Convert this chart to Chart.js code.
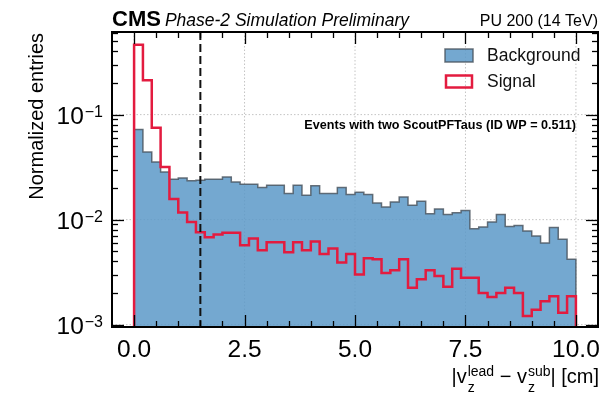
<!DOCTYPE html>
<html>
<head>
<meta charset="utf-8">
<script src="https://cdn.jsdelivr.net/npm/chart.js@4"></script>
<style>
  html, body { margin: 0; padding: 0; background: #fff; }
</style>
</head>
<body>
<canvas id="dz" width="603" height="394"></canvas>
<script>
// bin edges of |vz_lead - vz_sub| in cm
const binEdges = [0.0, 0.2, 0.4, 0.6, 0.8, 1.0, 1.2, 1.4, 1.6, 1.8,
  2.0, 2.2, 2.4, 2.6, 2.8, 3.0, 3.2, 3.4, 3.6, 3.8,
  4.0, 4.2, 4.4, 4.6, 4.8, 5.0, 5.2, 5.4, 5.6, 5.8,
  6.0, 6.2, 6.4, 6.6, 6.8, 7.0, 7.2, 7.4, 7.6, 7.8,
  8.0, 8.2, 8.4, 8.6, 8.8, 9.0, 9.2, 9.4, 9.6, 9.8, 10.0];

const background = [0.072, 0.044, 0.0354, 0.0284, 0.0242, 0.0249, 0.0235, 0.0237, 0.0242, 0.0242,
  0.0255, 0.0228, 0.0217, 0.0217, 0.0202, 0.0212, 0.0212, 0.0177, 0.0212, 0.0171,
  0.021, 0.0177, 0.0177, 0.0202, 0.0174, 0.0182, 0.0174, 0.0144, 0.0132, 0.0147,
  0.0164, 0.0137, 0.015, 0.0114, 0.0126, 0.0112, 0.0116, 0.0122, 0.0082, 0.0085,
  0.0095, 0.0112, 0.0086, 0.0088, 0.0078, 0.007, 0.006, 0.0084, 0.0065, 0.0042];

const signal = [0.464, 0.212, 0.075, 0.0317, 0.0157, 0.0117, 0.0095, 0.0076, 0.0068, 0.0072,
  0.0075, 0.0075, 0.0057, 0.0066, 0.0051, 0.0061, 0.0061, 0.0049, 0.0061, 0.0051,
  0.0062, 0.0047, 0.0053, 0.0039, 0.0047, 0.003, 0.0043, 0.0042, 0.0031, 0.0033,
  0.0042, 0.00225, 0.0027, 0.0033, 0.0029, 0.0023, 0.0034, 0.0028, 0.0028, 0.002,
  0.00183, 0.002, 0.00225, 0.002, 0.00121, 0.00139, 0.00167, 0.00186, 0.0013, 0.00186];

const xTicks = [0, 2.5, 5, 7.5, 10];
const xTickLabels = ['0.0', '2.5', '5.0', '7.5', '10.0'];
const yTicks = [0.001, 0.01, 0.1];
const yTickExp = ['\u22123', '\u22122', '\u22121'];
const cutValue = 1.5;

const X_MIN = -0.5, X_MAX = 10.5;
const Y_MIN = 0.00095, Y_MAX = 0.612;
const FONT = '"Liberation Sans", Arial, sans-serif';
const BLUE = 'rgba(93,154,200,0.86)';
const EDGE = 'rgba(70,80,90,0.8)';
const RED = '#e31b3f';

function histPoints(vals) {
  const last = binEdges.length - 1;
  const pts = [{ x: binEdges[0], y: Y_MIN }];
  vals.forEach((v, i) => pts.push({ x: binEdges[i], y: v }));
  pts.push({ x: binEdges[last], y: vals[vals.length - 1] });
  pts.push({ x: binEdges[last], y: Y_MIN });
  return pts;
}

function line(ctx, x1, y1, x2, y2) {
  ctx.beginPath(); ctx.moveTo(x1, y1); ctx.lineTo(x2, y2); ctx.stroke();
}

const decor = {
  id: 'decor',
  beforeDatasetsDraw(chart) {
    const { ctx, chartArea: a, scales: { x, y } } = chart;
    ctx.save();
    ctx.strokeStyle = '#c4c4c4';
    ctx.lineWidth = 1;
    ctx.setLineDash([1.5, 2]);
    xTicks.forEach(t => { const px = x.getPixelForValue(t); line(ctx, px, a.top, px, a.bottom); });
    yTicks.forEach(t => { const py = y.getPixelForValue(t); line(ctx, a.left, py, a.right, py); });
    ctx.restore();
  },
  afterDatasetsDraw(chart) {
    const { ctx, chartArea: a, scales: { x, y } } = chart;
    ctx.save();

    // cut line
    ctx.strokeStyle = '#111';
    ctx.lineWidth = 2;
    ctx.setLineDash([8, 4]);
    const cx = x.getPixelForValue(cutValue);
    line(ctx, cx, a.top, cx, a.bottom);
    ctx.setLineDash([]);

    // ticks on all sides, pointing in
    ctx.strokeStyle = '#000';
    ctx.lineWidth = 1.3;
    for (let v = -0.5; v <= 10.5; v += 0.5) {
      const px = Math.round(x.getPixelForValue(v)) + 0.5;
      if (px <= a.left + 1 || px >= a.right - 1) continue;
      const len = xTicks.includes(v) ? 12 : 6;
      line(ctx, px, a.bottom, px, a.bottom - len);
      line(ctx, px, a.top, px, a.top + len);
    }
    for (let d = 0.001; d < 1; d *= 10) {
      for (let k = 1; k <= 9; k++) {
        const v = d * k;
        if (v < Y_MIN || v > Y_MAX) continue;
        const py = Math.round(y.getPixelForValue(v)) + 0.5;
        const len = k === 1 ? 12 : 6;
        line(ctx, a.left, py, a.left + len, py);
        line(ctx, a.right, py, a.right - len, py);
      }
    }

    // frame
    ctx.lineWidth = 2;
    ctx.strokeRect(a.left, a.top, a.right - a.left, a.bottom - a.top);

    ctx.fillStyle = '#000';
    // x tick labels
    ctx.font = '24.5px ' + FONT;
    ctx.textAlign = 'center';
    ctx.textBaseline = 'alphabetic';
    xTicks.forEach((t, i) => ctx.fillText(xTickLabels[i], x.getPixelForValue(t), 357));

    // y tick labels 10^n
    yTicks.forEach((t, i) => {
      const py = y.getPixelForValue(t);
      ctx.font = '16px ' + FONT;
      ctx.textAlign = 'right';
      const sw = ctx.measureText(yTickExp[i]).width;
      ctx.fillText(yTickExp[i], 103, py + 2);
      ctx.font = '24.5px ' + FONT;
      ctx.fillText('10', 103 - sw - 1, py + 9.5);
    });

    // y title
    ctx.save();
    ctx.translate(37, 33);
    ctx.rotate(-Math.PI / 2);
    ctx.font = '20px ' + FONT;
    ctx.textAlign = 'right';
    ctx.textBaseline = 'middle';
    ctx.fillText('Normalized entries', 0, 0);
    ctx.restore();

    // x title: |v_z^lead - v_z^sub| [cm]
    const parts = ['|v', ['z', 'lead'], ' \u2212 v', ['z', 'sub'], '| [cm]'];
    const mainF = '20px ' + FONT, smallF = '14px ' + FONT;
    ctx.textAlign = 'left';
    let total = 0;
    parts.forEach(p => {
      if (typeof p === 'string') { ctx.font = mainF; total += ctx.measureText(p).width; }
      else { ctx.font = smallF; total += Math.max(ctx.measureText(p[0]).width, ctx.measureText(p[1]).width) + 1; }
    });
    let px = 599 - total;
    parts.forEach(p => {
      if (typeof p === 'string') {
        ctx.font = mainF; ctx.fillText(p, px, 383); px += ctx.measureText(p).width;
      } else {
        ctx.font = smallF;
        ctx.fillText(p[1], px + 1, 376);
        ctx.fillText(p[0], px + 1, 391.5);
        px += Math.max(ctx.measureText(p[0]).width, ctx.measureText(p[1]).width) + 1;
      }
    });

    // header
    ctx.font = 'bold 22px ' + FONT;
    ctx.fillText('CMS', 112, 26);
    const cmsW = ctx.measureText('CMS').width;
    ctx.font = 'italic 17.5px ' + FONT;
    ctx.fillText('Phase-2 Simulation Preliminary', 112 + cmsW + 4, 26);
    ctx.font = '16px ' + FONT;
    ctx.textAlign = 'right';
    ctx.fillText('PU 200 (14 TeV)', 598, 26);

    // selection note
    ctx.font = 'bold 12.6px ' + FONT;
    ctx.textBaseline = 'middle';
    ctx.fillText('Events with two ScoutPFTaus (ID WP = 0.511)', 576, 126);

    // legend
    const ds = chart.data.datasets;
    const bg = ds.find(d => d.label === 'Background');
    const sg = ds.find(d => d.label === 'Signal');
    ctx.fillStyle = BLUE;
    ctx.fillRect(445, 49, 28, 13);
    ctx.strokeStyle = EDGE;
    ctx.lineWidth = 1.5;
    ctx.strokeRect(445, 49, 28, 13);
    ctx.strokeStyle = RED;
    ctx.lineWidth = 2.5;
    ctx.strokeRect(446, 75.5, 26, 12);
    ctx.fillStyle = '#111';
    ctx.font = '17.5px ' + FONT;
    ctx.textAlign = 'left';
    ctx.fillText(bg.label, 487, 56);
    ctx.fillText(sg.label, 487, 82);

    ctx.restore();
  }
};

new Chart(document.getElementById('dz'), {
  type: 'line',
  data: {
    datasets: [
      {
        label: 'Signal',
        data: histPoints(signal),
        borderColor: RED,
        borderWidth: 2.5,
        fill: false,
        stepped: 'before',
        pointRadius: 0,
        order: 0
      },
      {
        label: 'Background',
        data: histPoints(background),
        borderColor: EDGE,
        backgroundColor: BLUE,
        borderWidth: 1.5,
        fill: 'start',
        stepped: 'before',
        pointRadius: 0,
        order: 1
      }
    ]
  },
  options: {
    responsive: false,
    animation: false,
    devicePixelRatio: 1,
    layout: { padding: { left: 112, right: 5, top: 32, bottom: 67 } },
    scales: {
      x: { type: 'linear', min: X_MIN, max: X_MAX, display: false },
      y: { type: 'logarithmic', min: Y_MIN, max: Y_MAX, display: false }
    },
    plugins: { legend: { display: false }, tooltip: { enabled: false } }
  },
  plugins: [decor]
});
</script>
</body>
</html>
